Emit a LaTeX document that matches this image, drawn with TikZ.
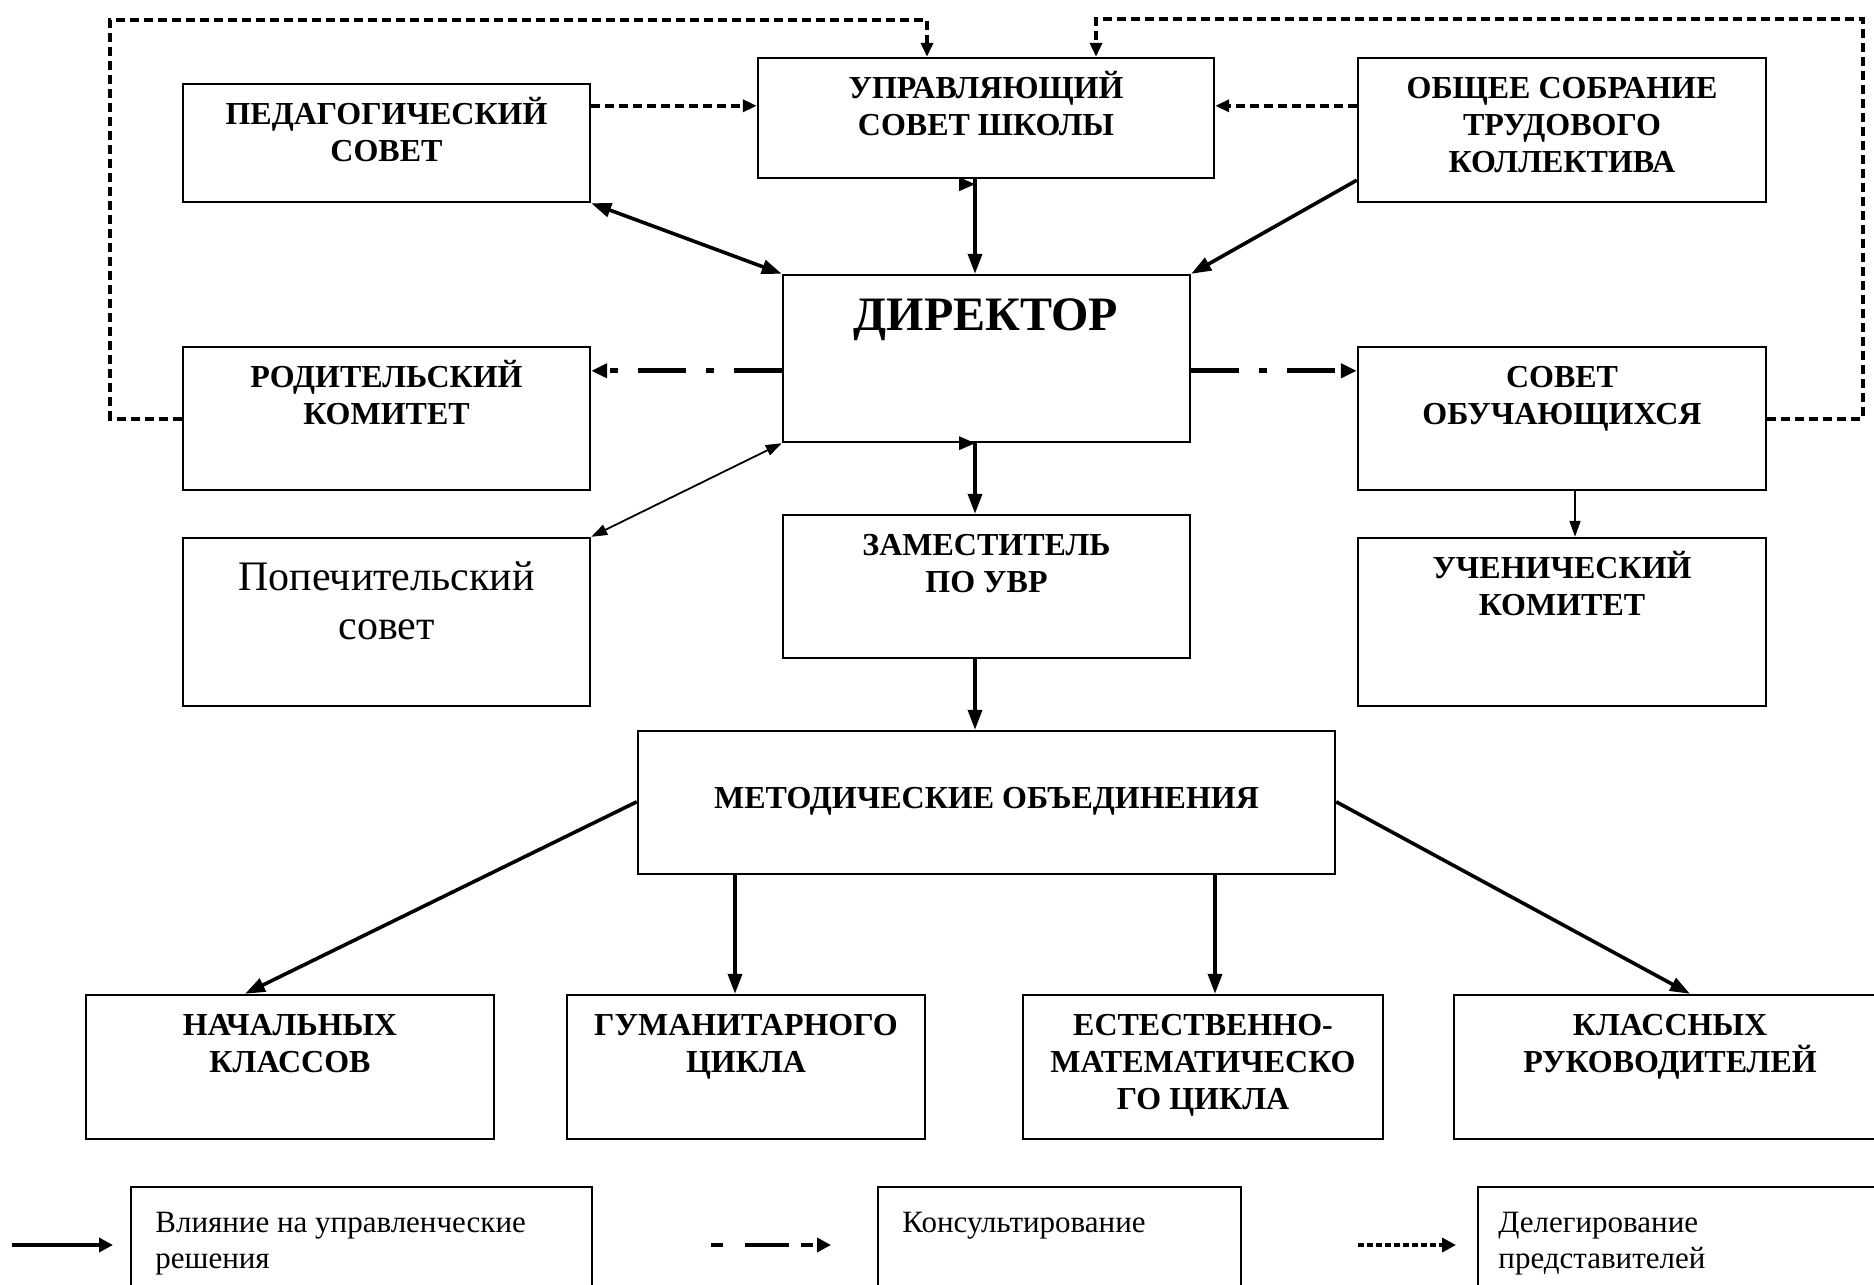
\documentclass[tikz,border=0pt]{standalone}
\usepackage{fontspec}
\setmainfont{Liberation Serif}
\usetikzlibrary{arrows.meta}
\newcommand{\fla}{\rule{0pt}{15pt}}
\newcommand{\flb}{\rule{0pt}{20pt}}
\begin{document}
\begin{tikzpicture}[x=0.5pt,y=-0.5pt,
  box/.style 2 args={draw,line width=1.2pt,inner sep=0pt,minimum width=#1,minimum height=#2},
  btxt/.style={font=\bfseries\fontsize{16}{18.5}\selectfont,align=center,inner sep=0pt,anchor=north},
  rtxt/.style={font=\fontsize{21}{24.5}\selectfont,align=center,inner sep=0pt,anchor=north},
  ltxt/.style={font=\fontsize{15.5}{18}\selectfont,align=left,inner sep=0pt,anchor=north west},
  main/.style={line width=1.8pt,>={Triangle[length=10pt,width=7pt]}},
  thinarr/.style={line width=0.9pt,>={Triangle[length=8pt,width=5.5pt]}},
  deleg/.style={line width=2pt,dash pattern=on 4.5pt off 2.5pt,>={Triangle[length=7pt,width=6pt]}},
  consult/.style={line width=2.5pt,dash pattern=on 24pt off 10pt on 4pt off 10pt,>={Triangle[length=8pt,width=7pt]}},
  legarr/.style={line width=2pt,>={Triangle[length=7pt,width=7pt]}}
]
\useasboundingbox (0,0) rectangle (1874,1285);
\fill[white] (0,0) rectangle (1874,1285);
\clip (0,0) rectangle (1874,1285);

% boxes
\node[box={203.5pt}{59pt}] (ped) at (386.5,143) {};
\node[box={228pt}{60pt}] (upr) at (986,118) {};
\node[box={204pt}{72pt}] (obsh) at (1562,130) {};
\node[box={203.5pt}{83.5pt}] (dir) at (986.5,358.5) {};
\node[box={203.5pt}{71.5pt}] (rod) at (386.5,418.5) {};
\node[box={204pt}{71.5pt}] (sovob) at (1562,418.5) {};
\node[box={203.5pt}{84pt}] (pop) at (386.5,622) {};
\node[box={203.5pt}{71.5pt}] (zam) at (986.5,586.5) {};
\node[box={204pt}{84pt}] (uch) at (1562,622) {};
\node[box={348.5pt}{71.5pt}] (met) at (986.5,802.5) {};
\node[box={204pt}{72pt}] (nach) at (290,1067) {};
\node[box={179pt}{72pt}] (gum) at (746,1067) {};
\node[box={180pt}{72pt}] (est) at (1203,1067) {};
\node[box={216pt}{72pt}] (klass) at (1670,1067) {};
\node[box={230.5pt}{71.5pt}] (leg1) at (361.5,1258.5) {};
\node[box={181.5pt}{71.5pt}] (leg2) at (1059.5,1258.5) {};
\node[box={211pt}{71.5pt}] (leg3) at (1689,1258.5) {};

% texts
\node[btxt] (tped) at (386.5,94) {\fla ПЕДАГОГИЧЕСКИЙ\\СОВЕТ};
\node[btxt] (tupr) at (986,68) {\fla УПРАВЛЯЮЩИЙ\\СОВЕТ ШКОЛЫ};
\node[btxt] (tobsh) at (1562,68) {\fla ОБЩЕЕ СОБРАНИЕ\\ТРУДОВОГО\\КОЛЛЕКТИВА};
\node[font=\bfseries\fontsize{24}{28}\selectfont,inner sep=0pt,anchor=base] (tdir) at (986,330) {ДИРЕКТОР};
\node[btxt] (trod) at (386.5,357) {\fla РОДИТЕЛЬСКИЙ\\КОМИТЕТ};
\node[btxt] (tsovob) at (1562,357) {\fla СОВЕТ\\ОБУЧАЮЩИХСЯ};
\node[rtxt] (tpop) at (386.5,550) {\flb Попечительский\\совет};
\node[btxt] (tzam) at (986.5,525) {\fla ЗАМЕСТИТЕЛЬ\\ПО УВР};
\node[btxt] (tuch) at (1562,548) {\fla УЧЕНИЧЕСКИЙ\\КОМИТЕТ};
\node[font=\bfseries\fontsize{16}{18.5}\selectfont,inner sep=0pt,anchor=base] (tmet) at (986.5,808) {МЕТОДИЧЕСКИЕ ОБЪЕДИНЕНИЯ};
\node[btxt] (tnach) at (290,1005) {\fla НАЧАЛЬНЫХ\\КЛАССОВ};
\node[btxt] (tgum) at (746,1005) {\fla ГУМАНИТАРНОГО\\ЦИКЛА};
\node[btxt] (test) at (1203,1005) {\fla ЕСТЕСТВЕННО-\\МАТЕМАТИЧЕСКО\\ГО ЦИКЛА};
\node[btxt] (tklass) at (1670,1005) {\fla КЛАССНЫХ\\РУКОВОДИТЕЛЕЙ};
\node[ltxt] (tl1) at (155,1202) {\fla Влияние на управленческие\\решения};
\node[ltxt] (tl2) at (902,1202) {\fla Консультирование};
\node[ltxt] (tl3) at (1498,1202) {\fla Делегирование\\представителей};

% delegation (dashed) connectors
\coordinate (dL) at (927,20);
\coordinate (dR) at (1096,19);
\draw[deleg,->] (rod.west) -| (110,20) -- (dL) -- (dL |- upr.north);
\draw[deleg,->] (sovob.east) -| (1863,19) -- (dR) -- (dR |- upr.north);
\coordinate (a1) at ([yshift=-11.5pt]ped.north east);
\draw[deleg,->] (a1) -- (a1 -| upr.west);
\coordinate (a2) at ([yshift=-24.5pt]obsh.north west);
\draw[deleg,->] (a2) -- (a2 -| upr.east);

% main solid connectors
\coordinate (a3) at ([xshift=-5.5pt]upr.south);
\draw[main,->] (a3) -- (a3 |- dir.north);
\fill ([yshift=-2.5pt]a3) -- ++(-8pt,3.5pt) -- ++(0,-7pt) -- cycle;
\draw[main,<->] (ped.south east) -- (dir.north west);
\coordinate (a6) at ([yshift=11.5pt]obsh.south west);
\draw[main,->] (a6) -- (dir.north east);
\coordinate (a4) at ([xshift=-5.75pt]dir.south);
\draw[main,->] (a4) -- (a4 |- zam.north);
\fill (a4) -- ++(-8pt,3.5pt) -- ++(0,-7pt) -- cycle;
\coordinate (a5) at ([xshift=-5.75pt]zam.south);
\draw[main,->] (a5) -- (a5 |- met.north);

% consulting
\coordinate (a7) at ([yshift=-48.5pt]dir.north west);
\draw[consult,->] (a7) -- (a7 -| rod.east);
\coordinate (a8) at ([yshift=-48.5pt]dir.north east);
\draw[consult,->] (a8) -- (a8 -| sovob.west);

% thin
\draw[thinarr,<->] (dir.south west) -- (pop.north east);
\coordinate (a9) at ([xshift=6.5pt]sovob.south);
\draw[thinarr,->] (a9) -- (a9 |- uch.north);

% methodical associations
\coordinate (a10) at ([yshift=-36pt]met.north west);
\draw[main,->] (a10) -- ([xshift=-22.5pt]nach.north);
\coordinate (a11) at ([xshift=-5.5pt]gum.north);
\draw[main,->] (a11 |- met.south) -- (a11);
\coordinate (a12) at ([xshift=6pt]est.north);
\draw[main,->] (a12 |- met.south) -- (a12);
\coordinate (a13) at ([yshift=-36pt]met.north east);
\draw[main,->] (a13) -- ([xshift=10pt]klass.north);

% legend arrows
\coordinate (l1a) at (12,1245);
\coordinate (l1b) at (113,1245);
\draw[legarr,->] (l1a) -- (l1b);
\coordinate (l2a) at (711,1245);
\coordinate (l2b) at (831,1245);
\draw[legarr,dash pattern=on 6pt off 11pt on 22pt off 6pt on 6pt off 6pt,->] (l2a) -- (l2b);
\coordinate (l3a) at (1358,1245);
\coordinate (l3b) at (1456,1245);
\draw[legarr,dash pattern=on 3pt off 1.5pt,->] (l3a) -- (l3b);
\end{tikzpicture}
\end{document}
